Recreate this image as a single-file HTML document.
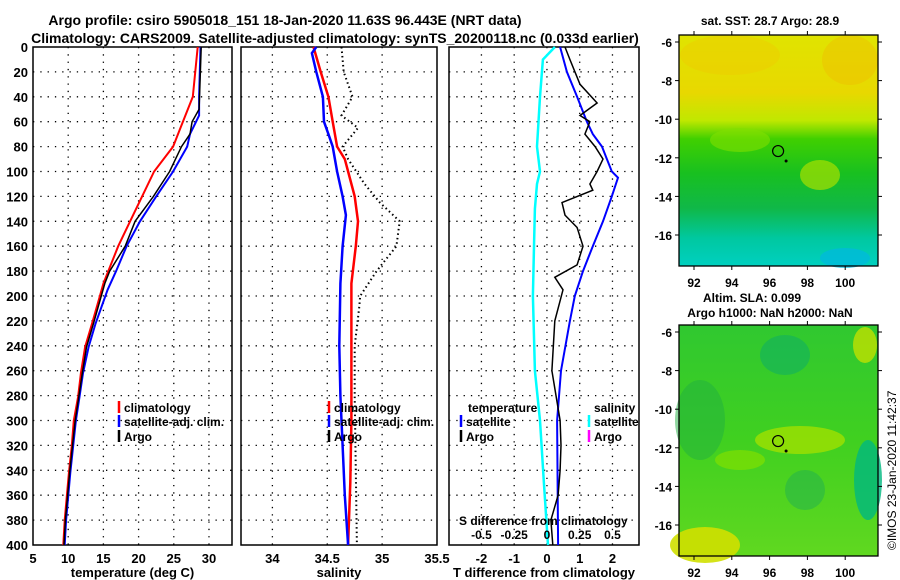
<!DOCTYPE html>
<html><head><meta charset="utf-8"><style>
body{margin:0;background:#fff;}
svg{display:block;font-family:"Liberation Sans",Arial,sans-serif;font-weight:bold;}
</style></head><body>
<svg id="c" width="900" height="580" viewBox="0 0 900 580">
<text x="285" y="25" font-size="14" text-anchor="middle">Argo profile: csiro 5905018_151 18-Jan-2020 11.63S 96.443E (NRT data)</text>
<text x="335" y="43" font-size="14" text-anchor="middle">Climatology: CARS2009. Satellite-adjusted climatology: synTS_20200118.nc (0.033d earlier)</text>
<g id="maps">
<defs>
<linearGradient id="sstg" x1="0" y1="0" x2="0" y2="1">
<stop offset="0" stop-color="#e0e400"/><stop offset="0.25" stop-color="#e8d800"/><stop offset="0.37" stop-color="#c0e800"/>
<stop offset="0.45" stop-color="#40d000"/><stop offset="0.6" stop-color="#18c020"/><stop offset="0.75" stop-color="#10b848"/>
<stop offset="0.88" stop-color="#00c8a0"/><stop offset="1" stop-color="#00d0c0"/></linearGradient>
<linearGradient id="slag" x1="0" y1="0" x2="0" y2="1">
<stop offset="0" stop-color="#30c830"/><stop offset="0.5" stop-color="#40d020"/><stop offset="1" stop-color="#60d820"/></linearGradient>
</defs>
<rect x="679" y="35" width="199" height="231" fill="url(#sstg)"/>
<ellipse cx="730" cy="55" rx="50" ry="20" fill="#f0c800" opacity="0.4"/>
<ellipse cx="850" cy="60" rx="28" ry="25" fill="#f0b800" opacity="0.4"/>
<ellipse cx="820" cy="175" rx="20" ry="15" fill="#a8e000" opacity="0.7"/>
<ellipse cx="740" cy="140" rx="30" ry="12" fill="#80e000" opacity="0.6"/>
<ellipse cx="845" cy="258" rx="25" ry="10" fill="#00b8e0" opacity="0.7"/>
<rect x="679" y="325" width="199" height="231" fill="url(#slag)"/>
<ellipse cx="785" cy="355" rx="25" ry="20" fill="#10b060" opacity="0.6"/>
<ellipse cx="700" cy="420" rx="25" ry="40" fill="#20b040" opacity="0.5"/>
<ellipse cx="800" cy="440" rx="45" ry="14" fill="#a0e000" opacity="0.8"/>
<ellipse cx="740" cy="460" rx="25" ry="10" fill="#80e000" opacity="0.7"/>
<ellipse cx="868" cy="480" rx="14" ry="40" fill="#00b880" opacity="0.8"/>
<ellipse cx="805" cy="490" rx="20" ry="20" fill="#20b050" opacity="0.5"/>
<ellipse cx="705" cy="545" rx="35" ry="18" fill="#d0e000" opacity="0.9"/>
<ellipse cx="865" cy="345" rx="12" ry="18" fill="#c0e000" opacity="0.8"/>
<text x="770" y="25" font-size="12" text-anchor="middle">sat. SST: 28.7 Argo: 28.9</text>
<text x="752" y="302" font-size="12" text-anchor="middle">Altim. SLA: 0.099</text>
<text x="770" y="317" font-size="12" text-anchor="middle">Argo h1000: NaN h2000: NaN</text>
<text transform="translate(896,550) rotate(-90)" font-size="12" font-weight="normal">©IMOS 23-Jan-2020 11:42:37</text>
</g>
<g id="plots"></g>
</svg>
<script>
const NS="http://www.w3.org/2000/svg";
const G=document.getElementById('plots');
function el(t,a,p){const e=document.createElementNS(NS,t);for(const k in a)e.setAttribute(k,a[k]);(p||G).appendChild(e);return e;}

// data
const depthTicks=[0,20,40,60,80,100,120,140,160,180,200,220,240,260,280,300,320,340,360,380,400];
const tempTicks=[5,10,15,20,25,30];
const salTicks=[34,34.5,35,35.5];
const tdiffTicks=[-2,-1,0,1,2];
const sdiffTicks=[-0.5,-0.25,0,0.25,0.5];
const sdiffTickLabels=["-0.5","-0.25","0","0.25","0.5"];
const tClimDepth=[0,40,60,80,100,120,140,160,180,190,200,222,241,262,281,300,321,342,361,380,400];
const tClim=[28.4,27.7,26.3,24.9,22.2,20.5,18.8,17.1,15.7,15.0,14.5,13.4,12.4,11.8,11.4,10.8,10.5,10.1,9.8,9.5,9.3];
const tSatDepth=[0,40,55,70,80,100,120,140,160,180,195,222,241,262,281,300,321,342,361,380,400];
const tSat=[28.8,28.6,28.6,27.3,26.9,24.9,22.5,20.2,18.3,16.8,15.6,13.9,12.9,12.1,11.6,11.1,10.7,10.3,10.0,9.7,9.5];
const tArgoDepth=[0,50,60,70,80,100,120,140,160,180,190,222,241,262,281,300,321,342,361,380,400];
const tArgo=[28.9,28.6,27.6,27.3,26.1,24.4,22.1,19.5,18.1,15.9,15.2,13.6,12.6,12.0,11.5,11.0,10.6,10.2,9.9,9.6,9.4];
const sClimDepth=[0,20,40,60,80,90,100,120,140,160,190,250,300,350,400];
const sClim=[34.375,34.44,34.51,34.55,34.59,34.66,34.69,34.75,34.78,34.76,34.72,34.72,34.72,34.71,34.69];
const sSatDepth=[0,5,20,40,60,70,80,100,120,135,160,190,240,280,320,360,400];
const sSat=[34.40,34.36,34.40,34.46,34.47,34.51,34.55,34.59,34.64,34.67,34.64,34.62,34.61,34.62,34.64,34.66,34.69];
const sArgoDepth=[0,20,40,55,65,80,90,110,125,140,160,180,200,210,240,280,340,400];
const sArgo=[34.63,34.65,34.73,34.63,34.78,34.64,34.69,34.84,34.98,35.16,35.13,34.95,34.80,34.79,34.75,34.75,34.76,34.77];
const dTSatDepth=[0,20,40,60,70,80,90,100,105,120,140,160,180,200,220,260,300,400];
const dTSat=[0.40,0.61,0.92,1.22,1.40,1.68,1.83,1.98,2.17,1.98,1.71,1.40,1.10,0.85,0.70,0.43,0.31,0.34];
const dTArgoDepth=[0,10,30,45,55,60,70,80,90,100,110,115,125,135,145,160,175,185,195,220,260,300,320,340,360,380,400];
const dTArgo=[0.55,0.70,1.01,1.53,1.01,1.31,1.16,1.47,1.71,1.53,1.31,1.40,0.46,0.55,0.92,1.10,0.92,0.24,0.49,0.24,0.15,0.40,0.43,0.40,0.34,0.12,0.18];
const dSSatDepth=[0,10,40,80,100,110,130,160,200,260,300,350,400];
const dSSat=[0.061,-0.031,-0.053,-0.076,-0.053,-0.076,-0.092,-0.099,-0.107,-0.092,-0.053,-0.023,0.008];

const y0=47,y1=545;
const yScale=d=>y0+(d/400)*(y1-y0);
const panels=[
 {name:'temperature',x0:33,x1:232,lo:5,hi:33.27,ticks:tempTicks,label:'temperature (deg C)'},
 {name:'salinity',x0:241,x1:437,lo:33.714,hi:35.5,ticks:salTicks,label:'salinity'},
 {name:'difference',x0:449,x1:639,lo:-2.99,hi:2.81,ticks:tdiffTicks,label:'T difference from climatology'}
];
function xs(p,v){return p.x0+(v-p.lo)/(p.hi-p.lo)*(p.x1-p.x0);}

panels.forEach((p,i)=>{
 const g=el('g',{});
 
 
 p.g=g;
 p.ticks.forEach(v=>{
  const x=xs(p,v);
  if(x>p.x0+1&&x<p.x1-1){
   const l=el('line',{x1:x,x2:x,y1:y0,y2:y1,stroke:'#000','stroke-width':1.3,'stroke-dasharray':'1.3 6'},g);
   
   
  }
  const t=el('text',{x:x,y:563,'font-size':13,'text-anchor':'middle'},g);
  
  
  t.textContent=v;
 });
 depthTicks.forEach(d=>{
  const y=yScale(d);
  if(d>0&&d<400){
   const l=el('line',{x1:p.x0,x2:p.x1,y1:y,y2:y,stroke:'#000','stroke-width':1.3,'stroke-dasharray':'1.3 6'},g);
   
   
  }
  if(i===0){
   const t=el('text',{x:28,y:y+5,'font-size':13,'text-anchor':'end'},g);
   
   
   t.textContent=d;
  }
 });
 const r=el('rect',{x:p.x0,y:y0,width:p.x1-p.x0,height:y1-y0,fill:'none',stroke:'#000','stroke-width':1.5},g);
 
 
 const lb=el('text',{x:(p.x0+p.x1)/2,y:577,'font-size':13,'text-anchor':'middle'},g);
 
 
 lb.textContent=p.label;
});

function line(p,depths,vals,color,w,name,dash,scale){
 const pts=depths.map((d,k)=>xs(p,vals[k]*(scale||1)).toFixed(1)+','+yScale(d).toFixed(1)).join(' ');
 const a={points:pts,fill:'none',stroke:color,'stroke-width':w};
 if(dash)a['stroke-dasharray']=dash;
 const e=el('polyline',a,p.g);
 
 
}
const P=panels;
line(P[0],tClimDepth,tClim,'#f00',2,'temp-climatology-line');
line(P[0],tSatDepth,tSat,'#00f',2,'temp-satellite-line');
line(P[0],tArgoDepth,tArgo,'#000',1.5,'temp-argo-line');
line(P[1],sClimDepth,sClim,'#f00',2.5,'sal-climatology-line');
line(P[1],sSatDepth,sSat,'#00f',2.5,'sal-satellite-line');
line(P[1],sArgoDepth,sArgo,'#000',2,'sal-argo-line','1.5 3');
line(P[2],dSSatDepth,dSSat,'#0ff',2.5,'sdiff-satellite-line',null,4);
line(P[2],dTSatDepth,dTSat,'#00f',2,'tdiff-satellite-line');
line(P[2],dTArgoDepth,dTArgo,'#000',1.5,'tdiff-argo-line');

function leg(x,y,color,txt,name,parent){
 const g=el('g',{},parent);
 
 
 if(color)el('line',{x1:x,x2:x,y1:y-11,y2:y+1,stroke:color,'stroke-width':2.5},g);
 const t=el('text',{x:x+5,y:y,'font-size':12},g);
 t.textContent=txt;
}
leg(119,412,'#f00','climatology','legend-climatology',P[0].g);
leg(119,426,'#00f','satellite-adj. clim.','legend-satellite',P[0].g);
leg(119,441,'#000','Argo','legend-argo',P[0].g);
leg(329,412,'#f00','climatology','legend-climatology',P[1].g);
leg(329,426,'#00f','satellite-adj. clim.','legend-satellite',P[1].g);
leg(329,441,'#000','Argo','legend-argo',P[1].g);
leg(463,412,null,'temperature','legend-temperature-header',P[2].g);
leg(461,426,'#00f','satellite','legend-t-satellite',P[2].g);
leg(461,441,'#000','Argo','legend-t-argo',P[2].g);
leg(589,412,null,'salinity','legend-salinity-header',P[2].g);
leg(589,426,'#0ff','satellite','legend-s-satellite',P[2].g);
leg(589,441,'#f0f','Argo','legend-s-argo',P[2].g);
const st=el('text',{x:459,y:525,'font-size':12},P[2].g);


st.textContent='S difference from climatology';
sdiffTicks.forEach((s,k)=>{
 const t=el('text',{x:xs(P[2],s*4),y:539,'font-size':12,'text-anchor':'middle'},P[2].g);
 
 
 t.textContent=sdiffTickLabels[k];
});

// map axes
const mapsG=document.getElementById('maps');
const lonTicks=[92,94,96,98,100];
const latTicks=[-6,-8,-10,-12,-14,-16];
const floatLon=96.45,floatLat=-11.65;
const lonS=v=>694+(v-92)*18.9;
[{top:35,name:'sst'},{top:325,name:'sla'}].forEach(m=>{
 const latS=v=>m.top+7+(-6-v)*19.3;
 const r=el('rect',{x:679,y:m.top,width:199,height:231,fill:'none',stroke:'#000','stroke-width':1.3},mapsG);
 
 
 lonTicks.forEach(v=>{
  const x=lonS(v);
  el('line',{x1:x,x2:x,y1:m.top,y2:m.top-4,stroke:'#000'},mapsG);
  el('line',{x1:x,x2:x,y1:m.top+231,y2:m.top+235,stroke:'#000'},mapsG);
  const t=el('text',{x:x,y:m.top+252,'font-size':12,'text-anchor':'middle'},mapsG);
  
  
  t.textContent=v;
 });
 latTicks.forEach(v=>{
  const y=latS(v);
  el('line',{x1:679,x2:675,y1:y,y2:y,stroke:'#000'},mapsG);
  el('line',{x1:878,x2:882,y1:y,y2:y,stroke:'#000'},mapsG);
  const t=el('text',{x:672,y:y+5,'font-size':12,'text-anchor':'end'},mapsG);
  
  
  t.textContent=v;
 });
 const c=el('circle',{cx:lonS(floatLon),cy:latS(floatLat),r:5.5,fill:'none',stroke:'#000','stroke-width':1.2},mapsG);
 
 
 el('circle',{cx:lonS(floatLon)+8,cy:latS(floatLat)+10,r:1.5,fill:'#000'},mapsG);
});
</script>
</body></html>
